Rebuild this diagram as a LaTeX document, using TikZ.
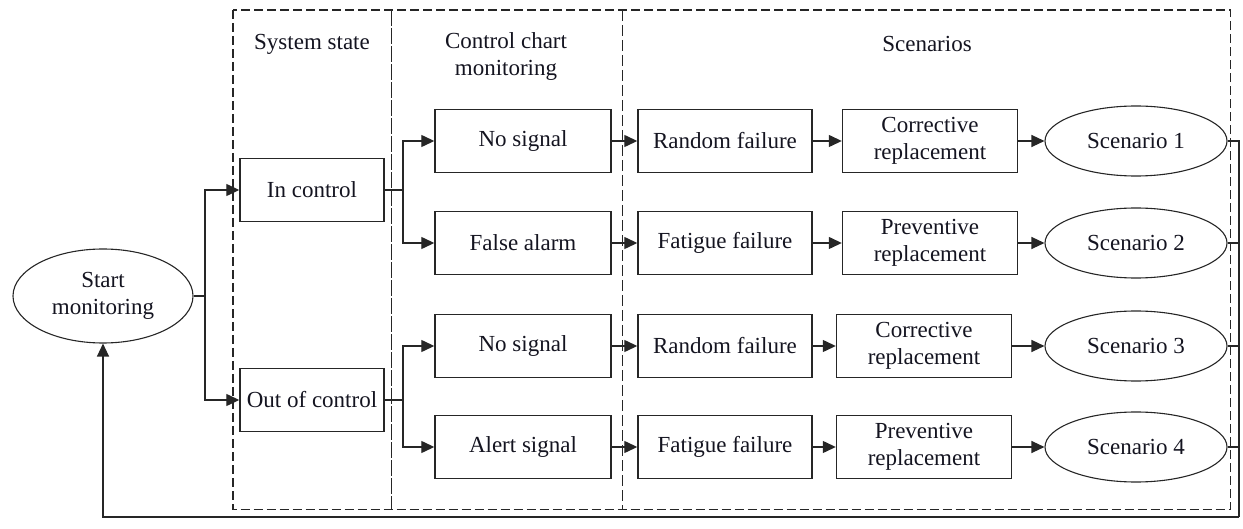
\documentclass[tikz,border=0pt]{standalone}
\usepackage{fontspec}
\setmainfont{Liberation Serif}
\usetikzlibrary{arrows.meta,shapes.geometric}
\definecolor{edge}{RGB}{38,38,38}
\definecolor{ink}{RGB}{20,20,32}
\begin{document}
\begin{tikzpicture}[x=1pt,y=-1pt,
  every node/.style={font=\fontsize{23}{27}\selectfont, text=ink, inner sep=0pt},
  lane/.style={draw=edge, line width=1.2pt, dash pattern=on 9pt off 4pt},
  box/.style={draw=edge, line width=1.4pt, minimum height=63pt, align=center},
  oval/.style={draw=edge, ellipse, line width=1.1pt, align=center},
  link/.style={draw=edge, line width=1.3pt},
  arr/.style={link, -{Triangle[length=13pt,width=12pt]}}]
\useasboundingbox (0,0) rectangle (1243,529);

% lane areas
\node[anchor=north west, minimum width=158pt, minimum height=499pt] (laneA) at (233,10) {};
\node[anchor=north west, minimum width=231pt, minimum height=499pt] (laneB) at (391,10) {};
\node[anchor=north west, minimum width=608pt, minimum height=499pt] (laneC) at (622,10) {};

% dashed frame and lane separators
\draw[lane] (laneA.north west) rectangle (laneC.south east);
\draw[lane, dash pattern=on 16pt off 2pt] (laneA.north east) -- (laneA.south east);
\draw[lane, dash pattern=on 11pt off 4pt] (laneB.north east) -- (laneB.south east);

% lane headings
\node (hA) at (312,44) {System state};
\node[align=center] (hB) at (506,57) {Control chart\\monitoring};
\node (hC) at (927,44) {Scenarios};

% start
\node[oval, minimum width=180pt, minimum height=94pt] (start) at (103,296) {Start\\monitoring};

% system state
\node[box, minimum width=144pt] (ic) at (312,190) {In control};
\node[box, minimum width=144pt] (oc) at (312,400) {Out of control};

% control chart monitoring
\node[box, minimum width=176pt] (ns1) at (523,141) {No signal};
\node[box, minimum width=176pt] (fa)  at (523,243) {False alarm};
\node[box, minimum width=176pt] (ns2) at (523,346) {No signal};
\node[box, minimum width=176pt] (as)  at (523,447) {Alert signal};

% failures
\node[box, minimum width=174pt] (rf1) at (725,141) {Random failure};
\node[box, minimum width=174pt] (ff2) at (725,243) {Fatigue failure};
\node[box, minimum width=174pt] (rf3) at (725,346) {Random failure};
\node[box, minimum width=174pt] (ff4) at (725,447) {Fatigue failure};

% replacements
\node[box, minimum width=175pt] (cr1) at (930,141) {Corrective\\replacement};
\node[box, minimum width=175pt] (pr2) at (930,243) {Preventive\\replacement};
\node[box, minimum width=175pt] (cr3) at (924,346) {Corrective\\replacement};
\node[box, minimum width=175pt] (pr4) at (924,447) {Preventive\\replacement};

% scenarios
\node[oval, minimum width=182pt, minimum height=70pt] (s1) at (1136,141) {Scenario 1};
\node[oval, minimum width=182pt, minimum height=70pt] (s2) at (1136,243) {Scenario 2};
\node[oval, minimum width=182pt, minimum height=70pt] (s3) at (1136,346) {Scenario 3};
\node[oval, minimum width=182pt, minimum height=70pt] (s4) at (1136,447) {Scenario 4};

% branch points
\coordinate (fork0) at (205,296);
\coordinate (fork1) at (403,190);
\coordinate (fork2) at (403,400);
\coordinate (ret) at (1239,517);

\draw[link] (start.east) -- (fork0);
\draw[arr] (fork0) |- (ic.west);
\draw[arr] (fork0) |- (oc.west);

\draw[link] (ic.east) -- (fork1);
\draw[arr] (fork1) |- (ns1.west);
\draw[arr] (fork1) |- (fa.west);
\draw[link] (oc.east) -- (fork2);
\draw[arr] (fork2) |- (ns2.west);
\draw[arr] (fork2) |- (as.west);

\draw[arr] (ns1) -- (rf1);
\draw[arr] (fa) -- (ff2);
\draw[arr] (ns2) -- (rf3);
\draw[arr] (as) -- (ff4);

\draw[arr] (rf1) -- (cr1);
\draw[arr] (ff2) -- (pr2);
\draw[arr] (rf3) -- (cr3);
\draw[arr] (ff4) -- (pr4);

\draw[arr] (cr1) -- (s1);
\draw[arr] (pr2) -- (s2);
\draw[arr] (cr3) -- (s3);
\draw[arr] (pr4) -- (s4);

% feedback loop
\draw[link] (s1.east) -| (ret);
\draw[link] (s2.east) -- (s2.east -| ret);
\draw[link] (s3.east) -- (s3.east -| ret);
\draw[link] (s4.east) -- (s4.east -| ret);
\draw[arr] (ret) -| (start.south);
\end{tikzpicture}
\end{document}
